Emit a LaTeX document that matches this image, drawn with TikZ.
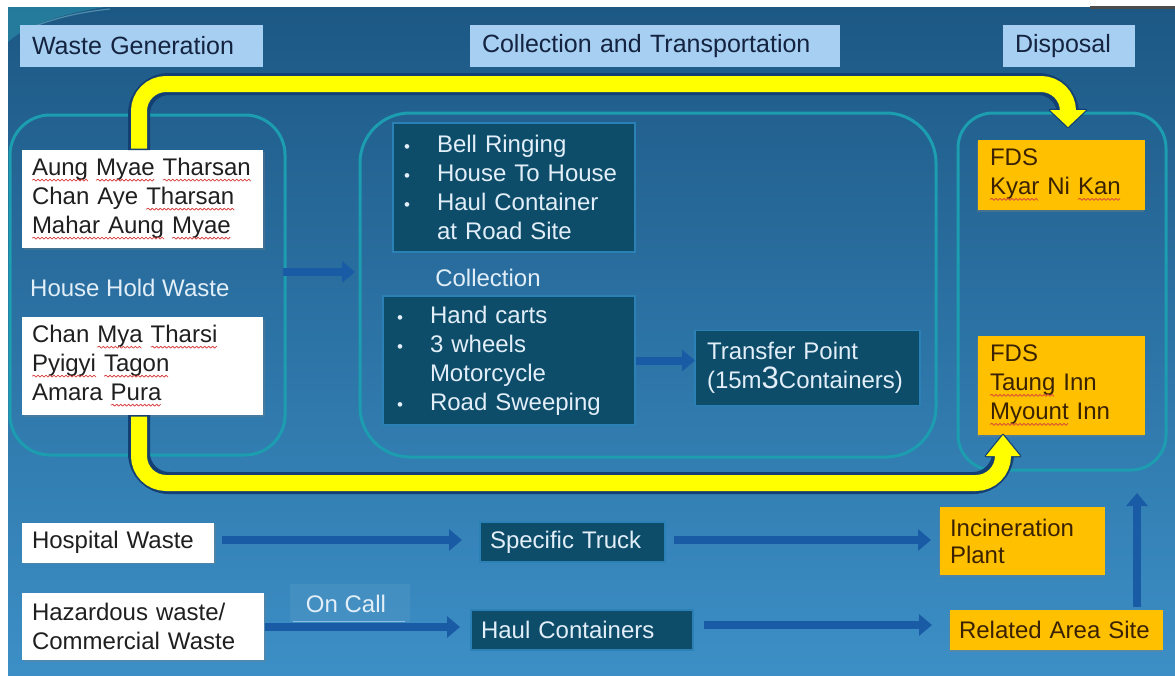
\documentclass[tikz,border=0pt]{standalone}
\usepackage{fontspec}
\setmainfont{Liberation Sans}
\usetikzlibrary{arrows.meta,calc,shadows}

\definecolor{bgtop}{HTML}{1D5885}
\definecolor{bgmid}{HTML}{2D74A8}
\definecolor{bgbot}{HTML}{3C8FC6}
\definecolor{swoosh}{HTML}{2A97AE}
\definecolor{hdrfill}{HTML}{A6CFF2}
\definecolor{hdrtext}{HTML}{14233F}
\definecolor{contline}{HTML}{1C9DB0}
\definecolor{darkbox}{HTML}{0D4D6A}
\definecolor{darkedge}{HTML}{2B80B6}
\definecolor{lighttext}{HTML}{E2EEF8}
\definecolor{orangebox}{HTML}{FFC000}
\definecolor{orangetext}{HTML}{3A2200}
\definecolor{flowyellow}{HTML}{FFFF00}
\definecolor{flowedge}{HTML}{143F72}
\definecolor{arrowblue}{HTML}{1A5BA6}
\definecolor{wavered}{HTML}{D84040}

\newcommand\bodyfont{\fontsize{24}{29}\selectfont}
\newcommand\hdrfont{\fontsize{25}{30}\selectfont}
\newcommand\bul{\makebox[33pt][l]{\fontsize{17}{17}\selectfont\textbullet}}

% red spell-check squiggle under a word
\newsavebox\sqbox
\newcount\sqk
\newcount\sqn
\newdimen\sqxd
\newcommand\squig[1]{%
  \leavevmode
  \sbox\sqbox{#1}%
  \rlap{\usebox\sqbox}%
  \rlap{\begin{pgfpicture}%
    \pgfpathrectangle{\pgfpointorigin}{\pgfpoint{1pt}{-7pt}}%
    \pgfusepath{use as bounding box}%
    \pgfsetbaseline{0pt}%
    \pgfsetlinewidth{0.75pt}%
    \pgfsetstrokecolor{wavered}%
    \pgfsetroundjoin
    \sqn=\wd\sqbox \divide\sqn by 131072
    \sqk=0
    \pgfpathmoveto{\pgfpoint{0pt}{-5pt}}%
    \loop\ifnum\sqk<\sqn
      \advance\sqk by 1
      \sqxd=2pt \multiply\sqxd by \sqk
      \ifodd\sqk \def\sqy{-4pt}\else\def\sqy{-6pt}\fi
      \pgfpathlineto{\pgfpoint{\sqxd}{\sqy}}%
    \repeat
    \pgfusepath{stroke}%
  \end{pgfpicture}}%
  \hspace*{\wd\sqbox}}

\begin{document}
\begin{tikzpicture}[x=1pt,y=-1pt,
  cont/.style={draw=contline, line width=3pt, outer sep=0pt, inner sep=0pt},
  hdr/.style={fill=hdrfill, text=hdrtext, font=\hdrfont, align=left, inner xsep=12pt, inner ysep=0pt, minimum height=42pt, outer sep=0pt},
  wbox/.style={fill=white, text=black!88, font=\bodyfont, align=left, inner xsep=10pt, inner ysep=0pt, outer sep=0pt,
    drop shadow={shadow xshift=1.5pt, shadow yshift=-1.5pt, opacity=0.3}},
  dbox/.style={fill=darkbox, draw=darkedge, line width=1.2pt, text=lighttext, font=\bodyfont, align=left, inner ysep=0pt, outer sep=0pt},
  obox/.style={fill=orangebox, text=orangetext, font=\bodyfont, align=left, inner ysep=0pt, outer sep=0pt,
    drop shadow={shadow xshift=-1.5pt, shadow yshift=-1.5pt, opacity=0.35}},
  lbl/.style={text=lighttext, font=\bodyfont, inner sep=0pt},
  barrow/.style={draw=arrowblue, line width=8pt, -{Triangle[width=21pt,length=13pt]}},
  flowout/.style={draw=flowedge, line width=22pt, rounded corners=30pt},
  flowin/.style={draw=flowyellow, line width=16pt, rounded corners=27pt}]

\useasboundingbox (0,0) rectangle (1175,675);

% slide background
\fill[white] (0,0) rectangle (1175,675);
\shade[top color=bgtop, middle color=bgmid, bottom color=bgbot] (8,7) rectangle (1175,675);
\fill[swoosh, opacity=0.55] (8,7) -- (105,7) .. controls (60,14) and (25,26) .. (8,42) -- cycle;
\draw[swoosh!60!white, opacity=0.5, line width=1.2pt] (30,28) .. controls (55,18) and (80,12) .. (110,9);
\fill[black!70] (1090,6) rectangle (1175,9);

% section headers
\node[hdr, text width=219pt] (hgen) at (141.5,46) {Waste Generation};
\node[hdr, text width=346pt] (hcol) at (655,46) {Collection and Transportation};
\node[hdr, text width=108pt] (hdis) at (1069,46) {Disposal};

% stage containers
\node[cont, minimum width=275pt, minimum height=340pt, rounded corners=40pt] (cgen) at (147.5,285) {};
\node[cont, minimum width=576pt, minimum height=344pt, rounded corners=50pt] (ccol) at (648,285) {};
\node[cont, minimum width=208pt, minimum height=357pt, rounded corners=35pt] (cdis) at (1062,291.5) {};

% household waste sources
\node[wbox, text width=221pt, minimum height=98pt] (aung) at (142.5,199)
  {\squig{Aung} \squig{Myae} \squig{Tharsan}\\Chan Aye \squig{Tharsan}\\\squig{Mahar Aung} \squig{Myae}};
\node[lbl, anchor=west] (hh) at (30,288) {House Hold Waste};
\node[wbox, text width=221pt, minimum height=98pt] (chan) at (142.5,366)
  {Chan \squig{Mya} \squig{Tharsi}\\\squig{Pyigyi} \squig{Tagon}\\Amara \squig{Pura}};

% collection methods
\node[dbox, text width=220pt, inner xsep=11pt, minimum height=129pt] (bell) at (514,187.5)
  {\bul Bell Ringing\\\bul House To House\\\bul Haul Container\\\hspace*{33pt}at Road Site};
\node[lbl] (coll) at (488,278) {Collection};
\node[dbox, text width=224pt, inner xsep=14pt, minimum height=129pt] (hand) at (509,360.5)
  {\bul Hand carts\\\bul 3 wheels\\\hspace*{33pt}Motorcycle\\\bul Road Sweeping};
\node[dbox, text width=201pt, inner xsep=12pt, minimum height=75pt] (trans) at (807.5,368)
  {Transfer Point\\(15m{\fontsize{31}{29}\selectfont 3}Containers)};

% final disposal sites
\node[obox, text width=143pt, inner xsep=12pt, minimum height=70pt] (fds1) at (1061.5,175)
  {FDS\\\squig{Kyar} Ni \squig{Kan}};
\node[obox, text width=143pt, inner xsep=12pt, minimum height=99pt] (fds2) at (1061.5,385.5)
  {FDS\\\squig{Taung} Inn\\\squig{Myount} Inn};

% special waste streams
\node[wbox, text width=172pt, minimum height=40pt] (hosp) at (118,542.5) {Hospital Waste};
\node[wbox, text width=222pt, minimum height=67pt] (haz) at (143,626.5) {Hazardous waste/\\Commercial Waste};
\node[dbox, text width=165pt, inner xsep=10pt, minimum height=40pt] (truck) at (572.5,542) {Specific Truck};
\node[dbox, text width=202pt, inner xsep=10pt, minimum height=40pt] (haul) at (582,630) {Haul Containers};
\node[obox, text width=145pt, inner xsep=10pt, minimum height=68pt, font=\fontsize{24}{27}\selectfont] (incin) at (1022.5,541) {Incineration\\Plant};
\node[obox, text width=195pt, inner xsep=9pt, minimum height=40pt] (rel) at (1056.5,630) {Related Area Site};

% on-call label
\fill[white, opacity=0.06] (290,584) rectangle (410,622);
\draw[hdrfill!70!white, opacity=0.6, line width=1pt] (293,621.5) -- (405,621.5);
\node[lbl] (oncall) at (346,604) {On Call};

% blue flow arrows
\draw[barrow] ($(cgen.east)+(-2,-13)$) -- ($(ccol.west)+(-5,-13)$);
\draw[barrow] ($(hand.east)+(1,0)$) -- (hand.east -| trans.west);
\draw[barrow] ($(hosp.east)+(8,-2.5)$) -- ($(truck.west)+(-18,-2)$);
\draw[barrow] ($(truck.east)+(9,-2)$) -- ($(incin.west)+(-9,-1)$);
\draw[barrow] ($(haz.east)+(1,0.5)$) -- ($(haul.west)+(-11,-3)$);
\draw[barrow] ($(haul.east)+(11,-5)$) -- ($(rel.west)+(-18,-5)$);
\draw[barrow] ($(rel.north)+(80.5,-3)$) -- ($(rel.north)+(80.5,-117)$);

% yellow household flows to the disposal sites
\coordinate (ttip) at ($(fds1.north)+(6.5,-13)$);
\coordinate (btip) at ($(fds2.south)+(-58.5,0)$);
\coordinate (tstart) at ($(aung.north)+(-3.5,0)$);
\coordinate (bstart) at ($(chan.south)+(-3.5,0)$);

\draw[flowout] (tstart) -- (tstart |- 0,84) -- (ttip |- 0,84) -- ($(ttip)+(0,-17)$);
\draw[flowout] (bstart) -- (bstart |- 0,483) -- (btip |- 0,483) -- ($(btip)+(0,21)$);
\filldraw[fill=flowedge, draw=flowedge, line width=2.5pt, line join=round]
  (ttip) -- ++(-18,-17) -- ++(36,0) -- cycle;
\filldraw[fill=flowedge, draw=flowedge, line width=2.5pt, line join=round]
  (btip) -- ++(-17,21) -- ++(34,0) -- cycle;
\draw[flowin] ($(tstart)+(0,-1.5)$) -- (tstart |- 0,84) -- (ttip |- 0,84) -- ($(ttip)+(0,-16.5)$);
\draw[flowin] ($(bstart)+(0,1.5)$) -- (bstart |- 0,483) -- (btip |- 0,483) -- ($(btip)+(0,20.5)$);
\fill[flowyellow] (ttip) -- ++(-18,-17) -- ++(36,0) -- cycle;
\fill[flowyellow] (btip) -- ++(-17,21) -- ++(34,0) -- cycle;

\end{tikzpicture}
\end{document}
